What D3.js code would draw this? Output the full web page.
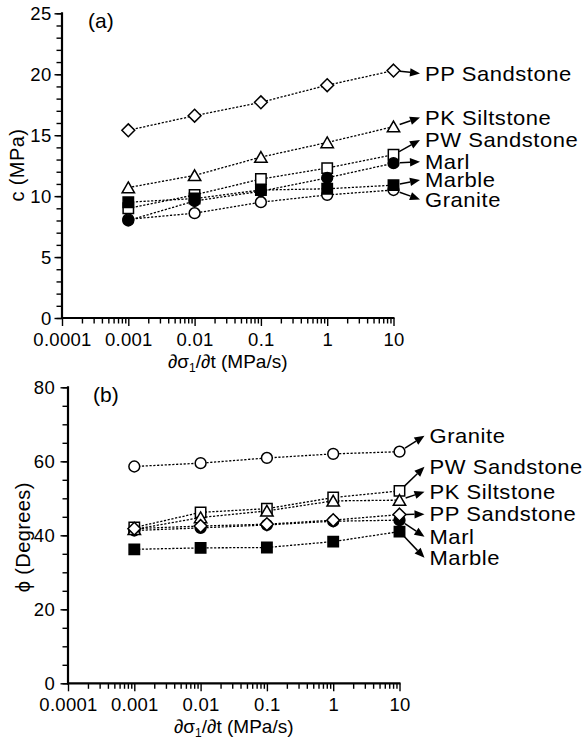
<!DOCTYPE html>
<html>
<head>
<meta charset="utf-8">
<script src="https://cdn.jsdelivr.net/npm/d3@7"></script>
<style>
  html, body { margin: 0; padding: 0; background: #fff; }
  svg { display: block; }
  text { font-family: "Liberation Sans", Arial, Helvetica, sans-serif; fill: #000; }
</style>
</head>
<body>
<svg id="fig" width="582" height="744"></svg>
<script>
// Loading rate (MPa/s) at which each test was run
const rates = [0.001, 0.01, 0.1, 1, 10];
const rateTicks = [0.0001, 0.001, 0.01, 0.1, 1, 10];
const rateTickLabels = ["0.0001", "0.001", "0.01", "0.1", "1", "10"];

// Cohesion c (MPa)
const cGranite = [8.1, 8.6, 9.5, 10.1, 10.5];
const cPWSandstone = [9.0, 10.1, 11.4, 12.3, 13.4];
const cMarl = [8.0, 9.6, 10.4, 11.5, 12.7];
const cMarble = [9.5, 9.8, 10.5, 10.6, 10.9];
const cPKSiltstone = [10.7, 11.7, 13.2, 14.4, 15.7];
const cPPSandstone = [15.4, 16.6, 17.7, 19.1, 20.3];
const cTicks = [0, 5, 10, 15, 20, 25];

// Friction angle phi (degrees)
const phiGranite = [58.6, 59.5, 60.9, 62.0, 62.6];
const phiPWSandstone = [42.1, 46.2, 47.2, 50.2, 52.0];
const phiMarl = [41.3, 42.0, 42.8, 43.8, 44.1];
const phiMarble = [36.2, 36.6, 36.7, 38.3, 41.0];
const phiPKSiltstone = [41.6, 44.8, 46.6, 49.3, 49.5];
const phiPPSandstone = [41.8, 42.5, 43.0, 44.1, 45.6];
const phiTicks = [0, 20, 40, 60, 80];

// Rock names, marker styles, and where each name label sits (in axis units)
const rockNames = ["Granite", "PW Sandstone", "Marl", "Marble", "PK Siltstone", "PP Sandstone"];
const rockMarkers = ["circle", "square", "circle", "square", "triangle", "diamond"];
const rockFilled = [false, false, true, true, false, false];
const cLabelAt = [9.72, 14.6, 12.82, 11.32, 16.45, 20.07];
const phiLabelAt = [66.9, 58.5, 39.6, 33.9, 51.8, 45.7];

const svg = d3.select("#fig");

function markerPath(type) {
  if (type === "circle") return d3.symbol().type(d3.symbolCircle).size(Math.PI * 5.4 * 5.4)();
  if (type === "square") return "M-5.2,-5.2H5.2V5.2H-5.2Z";
  if (type === "diamond") return "M0,-6.4L6.4,0L0,6.4L-6.4,0Z";
  return "M0,-5.6L6.2,5.2H-6.2Z";
}

function drawPanel(opt) {
  const g = svg.append("g");
  const x = d3.scaleLog().domain([1e-4, 10]).range([opt.x0, opt.x1]);
  const y = d3.scaleLinear().domain(opt.yDomain).range([opt.y0, opt.y1]);

  // x axis: labelled decades plus unlabelled minor ticks
  const minor = [];
  for (let e = -4; e < 1; e++) for (let m = 2; m <= 9; m++) minor.push(m * Math.pow(10, e));
  const xMinor = g.append("g").attr("transform", `translate(0,${opt.y0})`)
    .call(d3.axisBottom(x).tickValues(minor).tickSize(5.5).tickFormat(""));
  const xMajor = g.append("g").attr("transform", `translate(0,${opt.y0})`)
    .call(d3.axisBottom(x).tickValues(rateTicks).tickSize(8).tickPadding(7)
      .tickFormat((d, i) => rateTickLabels[i]));

  // y axis
  const yMinorVals = d3.range(opt.yDomain[0], opt.yDomain[1] + 0.001, opt.yMinorStep);
  const yMinor = g.append("g").attr("transform", `translate(${opt.x0},0)`)
    .call(d3.axisLeft(y).tickValues(yMinorVals).tickSize(5.5).tickFormat(""));
  const yMajor = g.append("g").attr("transform", `translate(${opt.x0},0)`)
    .call(d3.axisLeft(y).tickValues(opt.yTicks).tickSize(7.5).tickPadding(opt.yPad)
      .tickFormat(d3.format("d")));

  [xMinor, xMajor, yMinor, yMajor].forEach(a => {
    a.select(".domain").remove();
    a.selectAll("line").attr("stroke", "#000").attr("stroke-width", 1.4);
    a.selectAll("text").style("font-size", "18.5px").style("letter-spacing", "0.3px").attr("fill", "#000");
  });
  xMajor.selectAll("text").attr("dy", "0.71em");
  yMajor.selectAll("text").attr("dy", "0.36em");

  // axis lines
  g.append("line").attr("x1", opt.x0 - 1).attr("x2", opt.x1 + 1).attr("y1", opt.y0).attr("y2", opt.y0)
    .attr("stroke", "#000").attr("stroke-width", 2.2);
  g.append("line").attr("x1", opt.x0).attr("x2", opt.x0).attr("y1", opt.y0 + 1).attr("y2", opt.y1 - 1)
    .attr("stroke", "#000").attr("stroke-width", 2.2);

  // panel tag
  g.append("text").attr("x", opt.x0 + opt.tagDx).attr("y", opt.y1 + 15)
    .style("font-size", "21px").text(opt.tag);

  // axis titles
  g.append("text")
    .attr("transform", `translate(${opt.yTitleX},${(opt.y0 + opt.y1) / 2 + opt.yTitleDy}) rotate(-90)`)
    .attr("text-anchor", "middle").style("font-size", "20px").style("letter-spacing", "0.4px")
    .text(opt.yTitle);
  const xt = g.append("text").attr("x", (opt.x0 + opt.x1) / 2).attr("y", opt.y0 + 50)
    .attr("text-anchor", "middle").style("font-size", "19px");
  xt.append("tspan").text("\u2202\u03c3");
  xt.append("tspan").attr("dy", 4).style("font-size", "12px").text("1");
  xt.append("tspan").attr("dy", -4).text("/\u2202t (MPa/s)");

  const series = opt.order.map(i => ({
    name: rockNames[i], marker: rockMarkers[i], filled: rockFilled[i],
    values: opt.values[i], labelAt: opt.labelAt[i]
  }));

  // dotted connectors
  const line = d3.line().x((d, i) => x(rates[i])).y(d => y(d));
  g.selectAll("path.conn").data(series).join("path").attr("class", "conn")
    .attr("d", s => line(s.values)).attr("fill", "none")
    .attr("stroke", "#000").attr("stroke-width", 1.3).attr("stroke-dasharray", "2.2,1.6");

  // markers
  series.forEach(s => {
    g.selectAll(null).data(s.values).join("path")
      .attr("transform", (d, i) => `translate(${x(rates[i])},${y(d)})`)
      .attr("d", markerPath(s.marker))
      .attr("fill", s.filled ? "#000" : "#fff")
      .attr("stroke", "#000").attr("stroke-width", 1.5);
  });

  // name labels with arrows from the last point
  const labelX = opt.x1 + opt.labelGap;
  series.forEach(s => {
    const px = x(rates[rates.length - 1]);
    const py = y(s.values[s.values.length - 1]);
    const ty = y(s.labelAt);
    const tx = labelX - 5;
    const ang = Math.atan2(ty - py, tx - px);
    const sx = px + 6.5 * Math.cos(ang), sy = py + 6.5 * Math.sin(ang);
    const hl = 10, hw = 4.2;
    const bx = tx - hl * Math.cos(ang), by = ty - hl * Math.sin(ang);
    g.append("line").attr("x1", sx).attr("y1", sy).attr("x2", bx).attr("y2", by)
      .attr("stroke", "#000").attr("stroke-width", 1.5);
    const nx = -Math.sin(ang), ny = Math.cos(ang);
    g.append("path")
      .attr("d", `M${tx},${ty}L${bx + hw * nx},${by + hw * ny}L${bx - hw * nx},${by - hw * ny}Z`)
      .attr("fill", "#000");
    g.append("text")
      .attr("transform", `translate(${labelX},${ty + 7.2}) scale(1.1,1)`)
      .style("font-size", "20px").style("letter-spacing", "0.5px").text(s.name);
  });
}

// (a) cohesion
drawPanel({
  tag: "(a)", tagDx: 26,
  x0: 62, x1: 393.5, y0: 318, y1: 13.3,
  yDomain: [0, 25], yTicks: cTicks, yMinorStep: 1, yPad: 3,
  yTitle: "c (MPa)", yTitleX: 24, yTitleDy: -0.5,
  values: [cGranite, cPWSandstone, cMarl, cMarble, cPKSiltstone, cPPSandstone],
  labelAt: cLabelAt,
  order: [0, 1, 2, 3, 4, 5],
  labelGap: 31.5
});

// (b) friction angle
drawPanel({
  tag: "(b)", tagDx: 25,
  x0: 68, x1: 399.5, y0: 683.3, y1: 387.3,
  yDomain: [0, 80], yTicks: phiTicks, yMinorStep: 5, yPad: 5.5,
  yTitle: "\u03d5 (Degrees)", yTitleX: 29.5, yTitleDy: 2,
  values: [phiGranite, phiPWSandstone, phiMarl, phiMarble, phiPKSiltstone, phiPPSandstone],
  labelAt: phiLabelAt,
  order: [3, 2, 1, 4, 5, 0],
  labelGap: 30
});
</script>
</body>
</html>
